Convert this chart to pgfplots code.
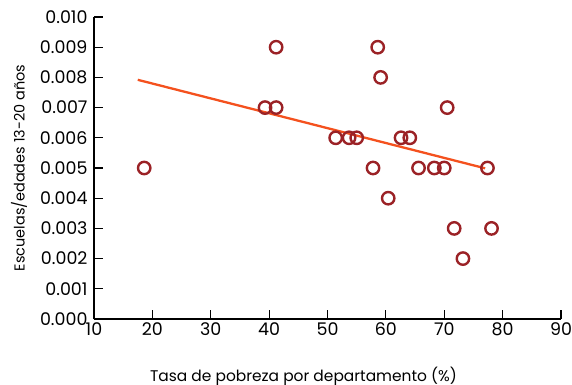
\documentclass[border=0pt]{standalone}
\usepackage{pgfplots}
\pgfplotsset{compat=1.18}
\usepackage{fontspec}
\setmainfont{Poppins}
\definecolor{ptred}{HTML}{9B2226}
\definecolor{lnorange}{HTML}{F4511E}
\begin{document}
\begin{tikzpicture}[x=1bp,y=1bp]
\begin{axis}[
  at={(0,0)}, anchor=south west,
  scale only axis,
  width=467bp, height=302bp,
  xmin=10, xmax=90, ymin=0, ymax=0.010,
  xtick={10,20,...,90},
  ytick={0,0.001,...,0.0101},
  axis lines=left,
  axis line style={line width=1.4bp, -},
  tick style={line width=1.2bp, black},
  tick align=inside,
  major tick length=9bp,
  /pgf/number format/assume math mode=true,
  scaled y ticks=false,
  yticklabel style={/pgf/number format/fixed, /pgf/number format/fixed zerofill, /pgf/number format/precision=3, font=\fontsize{17.5}{17.5}\selectfont, anchor=east, xshift=-3bp},
  xticklabel style={font=\fontsize{17.5}{17.5}\selectfont},
  xlabel={Tasa de pobreza por departamento (\%)},
  ylabel={Escuelas/edades 13-20 años},
  xlabel style={font=\fontsize{15.5}{15.5}\selectfont, at={(axis description cs:0.5,0)}, anchor=base, yshift=-62bp, xshift=-24bp},
  ylabel style={font=\fontsize{14.5}{14.5}\selectfont, at={(axis description cs:0,0.5)}, anchor=center, yshift=75bp},
  clip=false,
]
\addplot[lnorange, line width=2.3bp] coordinates {(17.5,0.00792) (77.0,0.00499)};
\addplot[only marks, mark=o, mark size=6.2bp, mark options={draw=ptred, line width=2.4bp}] coordinates {
(18.6,0.005)
(39.3,0.007) (41.2,0.007) (41.2,0.009)
(58.6,0.009) (59.1,0.008) (70.5,0.007)
(51.4,0.006) (53.7,0.006) (55.0,0.006) (62.6,0.006) (64.1,0.006)
(57.8,0.005) (65.6,0.005) (68.3,0.005) (70.0,0.005) (77.4,0.005)
(60.4,0.004) (71.7,0.003) (78.1,0.003) (73.2,0.002)
};
\end{axis}
\pgfresetboundingbox
\path (-94bp,-66bp) rectangle (478bp,319bp);
\end{tikzpicture}
\end{document}
